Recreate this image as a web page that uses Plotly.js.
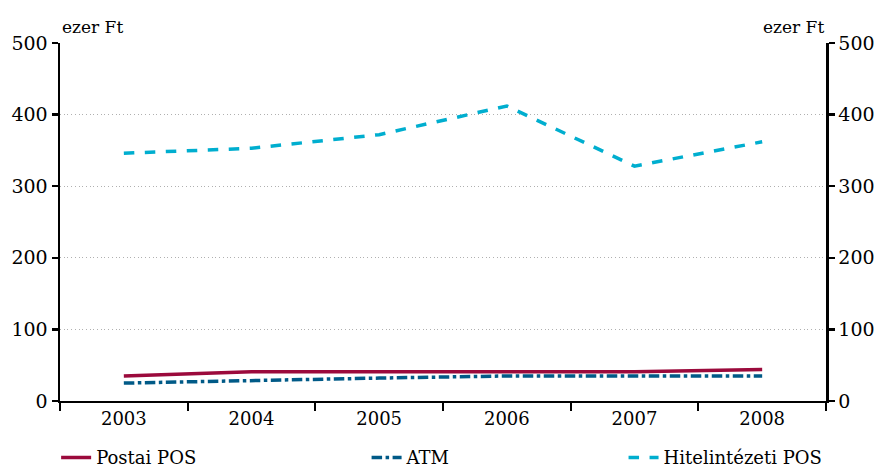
<!DOCTYPE html>
<html><head><meta charset="utf-8">
<script src="https://cdn.plot.ly/plotly-3.0.1.min.js"></script>
<style>body{margin:0}#c{width:877px;height:469px}</style>
</head><body><div id="c"></div>
<script>
const years = ['2003','2004','2005','2006','2007','2008'];
const postaiPOS = [35, 41, 41, 41, 41, 44];
const atm = [25, 29, 32, 35, 35, 35];
const hitelPOS = [346, 353, 372, 412, 328, 362];
const seriesNames = ['Postai POS', 'ATM', 'Hitelintézeti POS'];
const unit = 'ezer Ft';

const F = 'DejaVu Serif';
const traces = [
  {x: years, y: postaiPOS, name: seriesNames[0], type: 'scatter', mode: 'lines',
   line: {color: '#9B0A3C', width: 3.5}, legend: 'legend'},
  {x: years, y: atm, name: seriesNames[1], type: 'scatter', mode: 'lines',
   line: {color: '#005A87', width: 3.5, dash: 'dashdot'}, legend: 'legend2'},
  {x: years, y: hitelPOS, name: seriesNames[2], type: 'scatter', mode: 'lines',
   line: {color: '#00AECF', width: 3.5, dash: 'dash'}, legend: 'legend3'},
  {x: years, y: hitelPOS, yaxis: 'y2', type: 'scatter', mode: 'lines',
   line: {width: 0}, opacity: 0, showlegend: false, hoverinfo: 'skip'}
];
const legStyle = {orientation: 'h', yref: 'container', yanchor: 'middle', y: 0.024,
  xref: 'container', xanchor: 'left',
  font: {family: F, size: 18, color: '#000'}, bgcolor: 'rgba(0,0,0,0)', itemwidth: 30};
const layout = {
  width: 877, height: 469,
  margin: {l: 60, r: 51, t: 43, b: 68},
  paper_bgcolor: '#fff', plot_bgcolor: '#fff',
  font: {family: F, size: 18, color: '#000'},
  xaxis: {type: 'category', range: [-0.5, 5.5], showline: true, linecolor: '#000', linewidth: 2,
    ticks: 'outside', tickson: 'boundaries', ticklen: 8, tickwidth: 2, tickcolor: '#000',
    showgrid: false, zeroline: false, tickfont: {family: F, size: 18}},
  yaxis: {range: [0, 500], dtick: 100, showline: true, linecolor: '#000', linewidth: 2.5,
    ticks: 'outside', ticklen: 6, tickwidth: 2.5, tickcolor: '#000',
    showgrid: true, gridcolor: '#b0b0b0', griddash: '1px,2.7px', gridwidth: 1.1, zeroline: false,
    tickfont: {family: F, size: 19}},
  yaxis2: {range: [0, 500], dtick: 100, overlaying: 'y', side: 'right', showline: true,
    linecolor: '#000', linewidth: 2.5, ticks: 'outside', ticklen: 6, tickwidth: 2.5,
    tickcolor: '#000', showgrid: false, zeroline: false, tickfont: {family: F, size: 19}},
  legend: Object.assign({}, legStyle, {x: 0.064}),
  legend2: Object.assign({}, legStyle, {x: 0.418}),
  legend3: Object.assign({}, legStyle, {x: 0.711}),
  annotations: [
    {text: unit, xref: 'paper', yref: 'paper', x: 0, y: 1, xanchor: 'left', yanchor: 'bottom',
     yshift: 4, showarrow: false, font: {family: F, size: 17}},
    {text: unit, xref: 'paper', yref: 'paper', x: 1, y: 1, xanchor: 'right', yanchor: 'bottom',
     yshift: 4, showarrow: false, font: {family: F, size: 17}}
  ]
};
Plotly.newPlot('c', traces, layout, {displayModeBar: false, staticPlot: true});
</script></body></html>
